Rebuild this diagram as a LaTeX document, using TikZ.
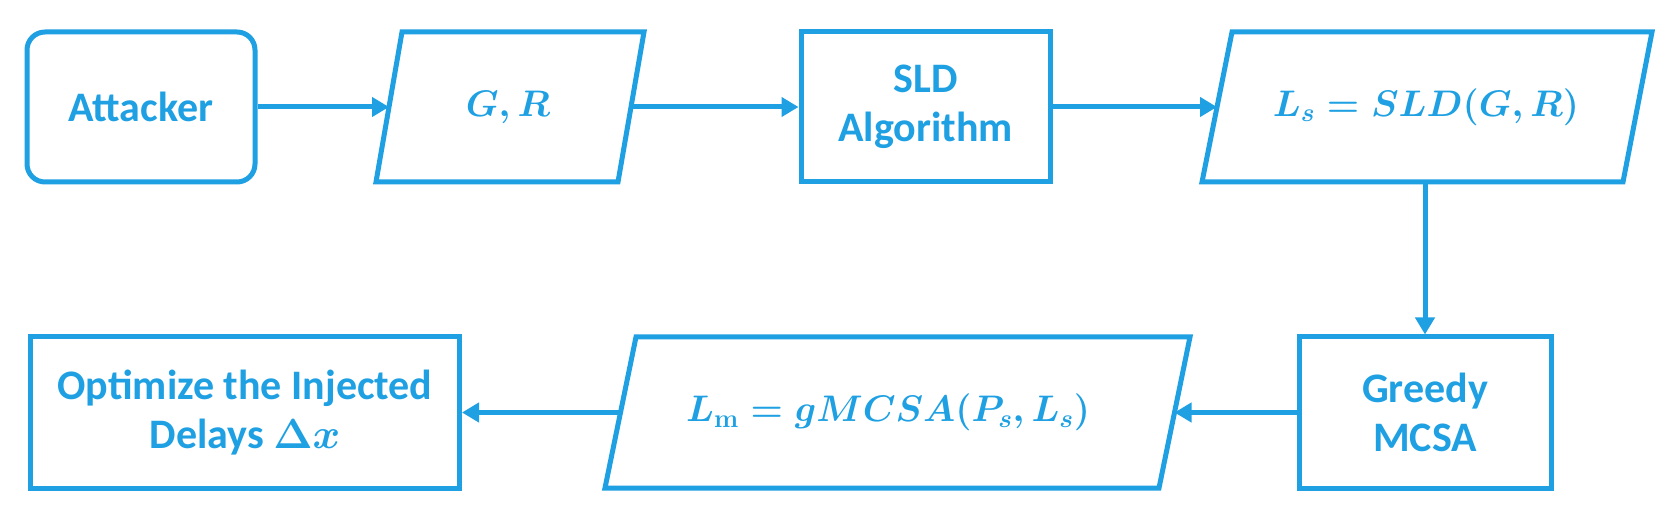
\RequirePackage{fix-cm}
\documentclass[tikz,border=0pt]{standalone}
\usepackage[no-math]{fontspec}
\setmainfont{Carlito}
\usetikzlibrary{arrows.meta}
\definecolor{myblue}{RGB}{30,160,226}
\tikzset{
  box/.style={draw=myblue, line width=5pt},
  lbl/.style={text=myblue, font=\bfseries\boldmath\fontsize{42}{49}\selectfont, align=center},
  mlbl/.style={text=myblue, font=\boldmath\fontsize{37}{46}\selectfont, align=center},
  conn/.style={draw=myblue, line width=5pt, -{Triangle[length=17pt,width=19pt]}}
}
\begin{document}
\begin{tikzpicture}[x=1pt,y=-1pt]
\useasboundingbox (0,0) rectangle (1663,529);
% rectangles
\node[box, lbl, rounded corners=18pt, minimum width=228pt, minimum height=150pt] (att) at (141,107) {Attacker};
\node[box, lbl, minimum width=249pt, minimum height=150pt] (sld) at (925.5,107) {SLD\\Algorithm};
\node[box, lbl, minimum width=252pt, minimum height=151pt] (greedy) at (1425,412.5) {Greedy\\MCSA};
\node[box, lbl, minimum width=429pt, minimum height=151pt] (opt) at (245,412.5) {Optimize the Injected\\Delays $\Delta x$};
% parallelograms
\draw[box] (402,32) -- (644,32) -- (618,182) -- (376,182) -- cycle;
\node[mlbl] (gr) at (508,107) {$G, R$};
\coordinate (grW) at (389,107);
\coordinate (grE) at (631,107);
\draw[box] (1232,32) -- (1652,32) -- (1623,182) -- (1202,182) -- cycle;
\node[mlbl] (ls) at (1426,107) {$L_s = SLD(G, R)$};
\coordinate (lsW) at (1217,107);
\coordinate (lsS) at (1425,182);
\draw[box] (636,337) -- (1190,337) -- (1159,488) -- (605,488) -- cycle;
\node[mlbl] (lm) at (888,412.5) {$L_{\mathrm{m}} = gMCSA(P_s, L_s)$};
\coordinate (lmE) at (1174.5,412.5);
\coordinate (lmW) at (620.5,412.5);
% connectors
\draw[conn] (att.east) -- (grW);
\draw[conn] (grE) -- (sld.west);
\draw[conn] (sld.east) -- (lsW);
\draw[conn] (lsS) -- (greedy.north);
\draw[conn] (greedy.west) -- (lmE);
\draw[conn] (lmW) -- (opt.east);
\end{tikzpicture}
\end{document}
